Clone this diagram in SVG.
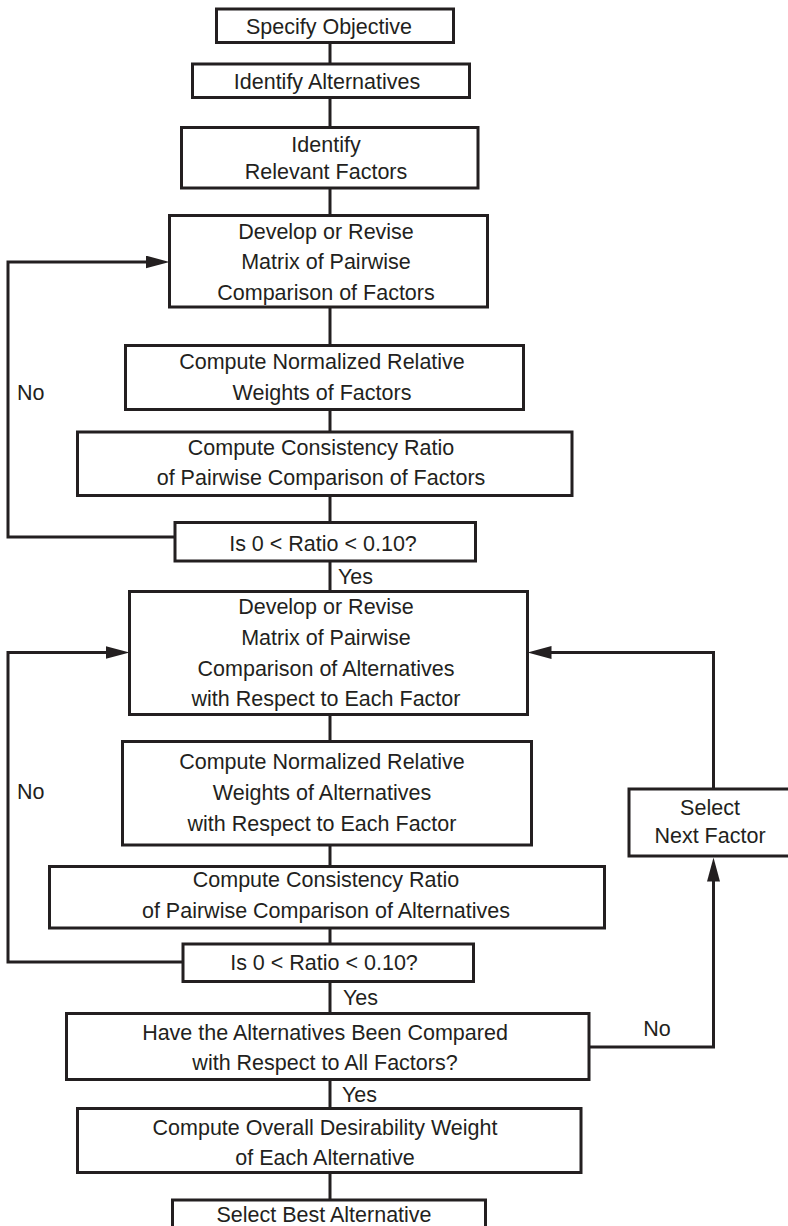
<svg xmlns="http://www.w3.org/2000/svg" width="788" height="1226" viewBox="0 0 788 1226">
  <style>
    .box { fill: #ffffff; stroke: #231f20; stroke-width: 3; }
    .wire { fill: none; stroke: #231f20; stroke-width: 3; }
    text { font-family: "Liberation Sans", Arial, sans-serif; font-size: 21.5px; fill: #231f20; }
    .c { text-anchor: middle; }
  </style>
  <defs>
    <marker id="arrow" markerUnits="userSpaceOnUse" markerWidth="26" markerHeight="14" refX="14" refY="6.5" orient="auto">
      <path d="M0,0 L24,6.5 L0,13 z" fill="#231f20"/>
    </marker>
  </defs>

  <rect width="788" height="1226" fill="#ffffff"/>

  <!-- connectors -->
  <g id="connectors">
    <path class="wire" d="M330,42 V64"/>
    <path class="wire" d="M330,97 V127.5"/>
    <path class="wire" d="M330,188 V215.5"/>
    <path class="wire" d="M330,307 V345.5"/>
    <path class="wire" d="M330,409.5 V432"/>
    <path class="wire" d="M330,495.5 V522.5"/>
    <path class="wire" d="M330,561 V591.5"/>
    <path class="wire" d="M330,714.5 V741.5"/>
    <path class="wire" d="M330,845 V866.5"/>
    <path class="wire" d="M330,928 V944"/>
    <path class="wire" d="M330,981.5 V1013.5"/>
    <path class="wire" d="M330,1079.5 V1108.5"/>
    <path class="wire" d="M330,1172.5 V1200"/>
    <!-- factor consistency loop -->
    <path class="wire" d="M175,537 H8 V262 H159.5" marker-end="url(#arrow)"/>
    <!-- alternative consistency loop -->
    <path class="wire" d="M183,962 H8 V652.5 H119.5" marker-end="url(#arrow)"/>
    <!-- next factor loop -->
    <path class="wire" d="M589,1047 H713.5 V867.5" marker-end="url(#arrow)"/>
    <path class="wire" d="M713.5,789 V652.5 H537.5" marker-end="url(#arrow)"/>
    <text x="17" y="400">No</text>
    <text x="17" y="799">No</text>
    <text x="657" y="1036" class="c">No</text>
    <text x="338" y="584">Yes</text>
    <text x="343" y="1005">Yes</text>
    <text x="342" y="1101.5">Yes</text>
  </g>

  <g id="specify-objective">
    <rect class="box" x="216.5" y="9" width="237" height="33.5"/>
    <text x="329" y="33.5" class="c">Specify Objective</text>
  </g>
  <g id="identify-alternatives">
    <rect class="box" x="192.5" y="64" width="277" height="33.5"/>
    <text x="327" y="88.5" class="c">Identify Alternatives</text>
  </g>
  <g id="identify-factors">
    <rect class="box" x="181.5" y="127.5" width="296.5" height="60.5"/>
    <text x="326" y="152" class="c">Identify</text>
    <text x="326" y="179" class="c">Relevant Factors</text>
  </g>
  <g id="factor-matrix">
    <rect class="box" x="169.5" y="215.5" width="318" height="91.5"/>
    <text x="326" y="239" class="c">Develop or Revise</text>
    <text x="326" y="269" class="c">Matrix of Pairwise</text>
    <text x="326" y="299.5" class="c">Comparison of Factors</text>
  </g>
  <g id="factor-weights">
    <rect class="box" x="125.5" y="345.5" width="398" height="64"/>
    <text x="322" y="368.5" class="c">Compute Normalized Relative</text>
    <text x="322" y="400" class="c">Weights of Factors</text>
  </g>
  <g id="factor-consistency">
    <rect class="box" x="77.5" y="432" width="494.5" height="63.5"/>
    <text x="321" y="455" class="c">Compute Consistency Ratio</text>
    <text x="321" y="485" class="c">of Pairwise Comparison of Factors</text>
  </g>
  <g id="factor-check">
    <rect class="box" x="175" y="522.5" width="300.5" height="38.5"/>
    <text x="323" y="551" class="c">Is 0 &lt; Ratio &lt; 0.10?</text>
  </g>
  <g id="alternative-matrix">
    <rect class="box" x="129.5" y="591.5" width="398" height="123"/>
    <text x="326" y="613.5" class="c">Develop or Revise</text>
    <text x="326" y="645" class="c">Matrix of Pairwise</text>
    <text x="326" y="675.5" class="c">Comparison of Alternatives</text>
    <text x="326" y="706" class="c">with Respect to Each Factor</text>
  </g>
  <g id="alternative-weights">
    <rect class="box" x="122.5" y="741.5" width="409" height="103.5"/>
    <text x="322" y="768.5" class="c">Compute Normalized Relative</text>
    <text x="322" y="799.5" class="c">Weights of Alternatives</text>
    <text x="322" y="831" class="c">with Respect to Each Factor</text>
  </g>
  <g id="alternative-consistency">
    <rect class="box" x="49.5" y="866.5" width="555" height="61.5"/>
    <text x="326" y="887" class="c">Compute Consistency Ratio</text>
    <text x="326" y="918" class="c">of Pairwise Comparison of Alternatives</text>
  </g>
  <g id="alternative-check">
    <rect class="box" x="183" y="944" width="290.5" height="37.5"/>
    <text x="324" y="969.5" class="c">Is 0 &lt; Ratio &lt; 0.10?</text>
  </g>
  <g id="select-next-factor">
    <rect class="box" x="629" y="789" width="170" height="67"/>
    <text x="710" y="815" class="c">Select</text>
    <text x="710" y="842.5" class="c">Next Factor</text>
  </g>
  <g id="all-factors-check">
    <rect class="box" x="66.5" y="1013.5" width="522.5" height="66"/>
    <text x="325" y="1039.5" class="c">Have the Alternatives Been Compared</text>
    <text x="325" y="1069.5" class="c">with Respect to All Factors?</text>
  </g>
  <g id="overall-weight">
    <rect class="box" x="77.5" y="1108.5" width="503.5" height="64"/>
    <text x="325" y="1135" class="c">Compute Overall Desirability Weight</text>
    <text x="325" y="1164.5" class="c">of Each Alternative</text>
  </g>
  <g id="select-best">
    <rect class="box" x="172.5" y="1200" width="313" height="40"/>
    <text x="324" y="1222" class="c">Select Best Alternative</text>
  </g>
</svg>
